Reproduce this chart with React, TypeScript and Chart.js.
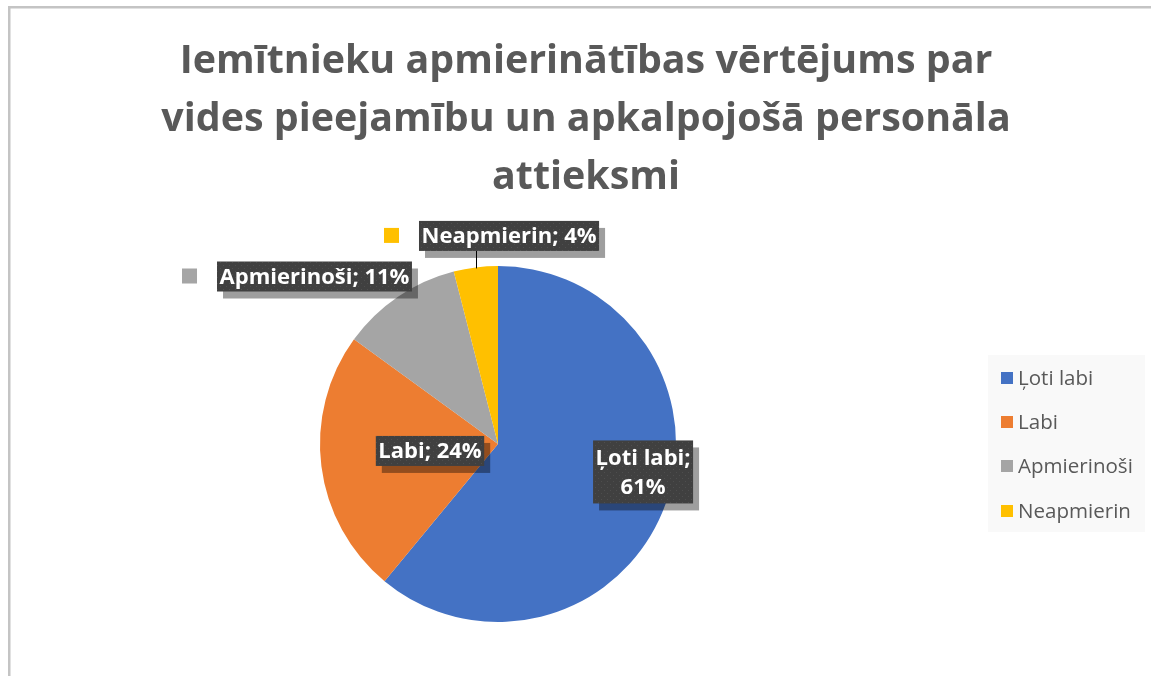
import { useEffect, useRef } from "react";
import { Chart, registerables } from "chart.js";
Chart.register(...registerables);

const categories = ["Ļoti labi", "Labi", "Apmierinoši", "Neapmierin"];
const percentages = [61, 24, 11, 4];
const colors = ["#4472C4", "#ED7D31", "#A5A5A5", "#FFC000"];
const titleLines = [
  "Iemītnieku apmierinātības vērtējums par",
  "vides pieejamību un apkalpojošā personāla",
  "attieksmi",
];

const FAMILY = "'Open Sans', 'Noto Sans', sans-serif";

function fitSize(ctx: CanvasRenderingContext2D, text: string, weight: string, target: number) {
  ctx.font = `${weight} 100px ${FAMILY}`;
  const w = ctx.measureText(text).width;
  return (100 * target) / w;
}

// label layout (relative to pie centre, in radius units)
const labelLayout = [
  { dx: 0.815, dy: 0.157, split: true, outside: false },
  { dx: -0.382, dy: 0.039, split: false, outside: false },
  { dx: -1.031, dy: -0.941, split: false, outside: true },
  { dx: 0.062, dy: -1.169, split: false, outside: true },
];

function makePattern(ctx: CanvasRenderingContext2D) {
  const c = document.createElement("canvas");
  c.width = 6;
  c.height = 6;
  const p = c.getContext("2d")!;
  p.fillStyle = "#404040";
  p.fillRect(0, 0, 6, 6);
  p.fillStyle = "#4e4e4e";
  p.fillRect(1, 1, 1, 1);
  p.fillRect(4, 4, 1, 1);
  return ctx.createPattern(c, "repeat");
}

const decor = {
  id: "decor",
  beforeDraw(chart: any) {
    const ctx: CanvasRenderingContext2D = chart.ctx;
    ctx.save();
    ctx.fillStyle = "#ffffff";
    ctx.fillRect(0, 0, chart.width, chart.height);
    ctx.strokeStyle = "#c4c4c4";
    ctx.lineWidth = 2.5;
    ctx.strokeRect(9.25, 7.25, 1300, 800);
    ctx.restore();
  },
  afterDraw(chart: any) {
    const ctx: CanvasRenderingContext2D = chart.ctx;
    ctx.save();
    // title
    const tSize = fitSize(ctx, titleLines[0], "bold", 813);
    ctx.font = `bold ${tSize}px ${FAMILY}`;
    ctx.fillStyle = "#595959";
    ctx.textAlign = "center";
    ctx.textBaseline = "alphabetic";
    const baselines = [73, 131, 189];
    titleLines.forEach((l, i) => ctx.fillText(l, 586, baselines[i]));

    // data labels
    const meta = chart.getDatasetMeta(0);
    const arc0 = meta.data[0];
    const cx = arc0.x;
    const cy = arc0.y;
    const r = arc0.outerRadius;
    const total = percentages.reduce((a, b) => a + b, 0);
    const lSize = fitSize(ctx, `${categories[2]}; ${percentages[2]}%`, "bold", 190);
    const pattern = makePattern(ctx);
    const lineH = lSize * 1.3;
    categories.forEach((cat, i) => {
      const lay = labelLayout[i];
      const pct = Math.round((percentages[i] / total) * 100);
      const lines = lay.split ? [`${cat};`, `${pct}%`] : [`${cat}; ${pct}%`];
      ctx.font = `bold ${lSize}px ${FAMILY}`;
      const tw = Math.max(...lines.map((l) => ctx.measureText(l).width));
      const bw = tw + 5;
      const bh = lines.length === 1 ? 30 : 63;
      const bx = cx + lay.dx * r - bw / 2;
      const by = cy + lay.dy * r - bh / 2;
      if (lay.outside && i === 3) {
        const arc = meta.data[i];
        const mid = (arc.startAngle + arc.endAngle) / 2;
        const ex = cx + r * Math.cos(mid);
        const ey = cy + r * Math.sin(mid);
        ctx.strokeStyle = "#000000";
        ctx.lineWidth = 1;
        ctx.beginPath();
        ctx.moveTo(Math.round(ex) + 0.5, by + bh);
        ctx.lineTo(Math.round(ex) + 0.5, ey + 1);
        ctx.stroke();
      }
      // shadow
      ctx.fillStyle = "rgba(0,0,0,0.38)";
      ctx.fillRect(bx + 6, by + 7, bw, bh);
      ctx.fillStyle = pattern || "#404040";
      ctx.fillRect(bx, by, bw, bh);
      ctx.fillStyle = "#ffffff";
      ctx.textAlign = "center";
      ctx.textBaseline = "middle";
      const startY = by + bh / 2 - ((lines.length - 1) * lineH) / 2 + 1;
      lines.forEach((l, k) => ctx.fillText(l, bx + bw / 2, startY + k * lineH));
      if (lay.outside) {
        ctx.fillStyle = colors[i];
        ctx.fillRect(bx - 35, by + bh / 2 - 8, 15, 15);
      }
    });

    // legend
    ctx.fillStyle = "#f9f9f9";
    ctx.fillRect(988, 355, 157, 177);
    const gSize = fitSize(ctx, categories[3], "normal", 113);
    ctx.font = `normal ${gSize}px ${FAMILY}`;
    ctx.textAlign = "left";
    ctx.textBaseline = "middle";
    const ys = [378, 422, 466, 511];
    categories.forEach((cat, i) => {
      ctx.fillStyle = colors[i];
      ctx.fillRect(1001, ys[i] - 6, 12, 12);
      ctx.fillStyle = "#595959";
      ctx.fillText(cat, 1018, ys[i] + 1);
    });
    ctx.restore();
  },
};

export default function App() {
  const ref = useRef<HTMLCanvasElement>(null);
  useEffect(() => {
    const chart = new Chart(ref.current!, {
      type: "pie",
      data: {
        labels: categories,
        datasets: [
          {
            data: percentages,
            backgroundColor: colors,
            borderWidth: 0,
          },
        ],
      },
      options: {
        responsive: false,
        animation: false,
        layout: { padding: { left: 320, right: 475, top: 266, bottom: 54 } },
        plugins: {
          legend: { display: false },
          title: { display: false },
          tooltip: { enabled: false },
        },
      },
      plugins: [decor],
    });
    return () => chart.destroy();
  }, []);
  return (
    <div style={{ position: "fixed", left: 0, top: 0, width: 1151, height: 676 }}>
      <canvas ref={ref} width={1151} height={676} />
    </div>
  );
}
